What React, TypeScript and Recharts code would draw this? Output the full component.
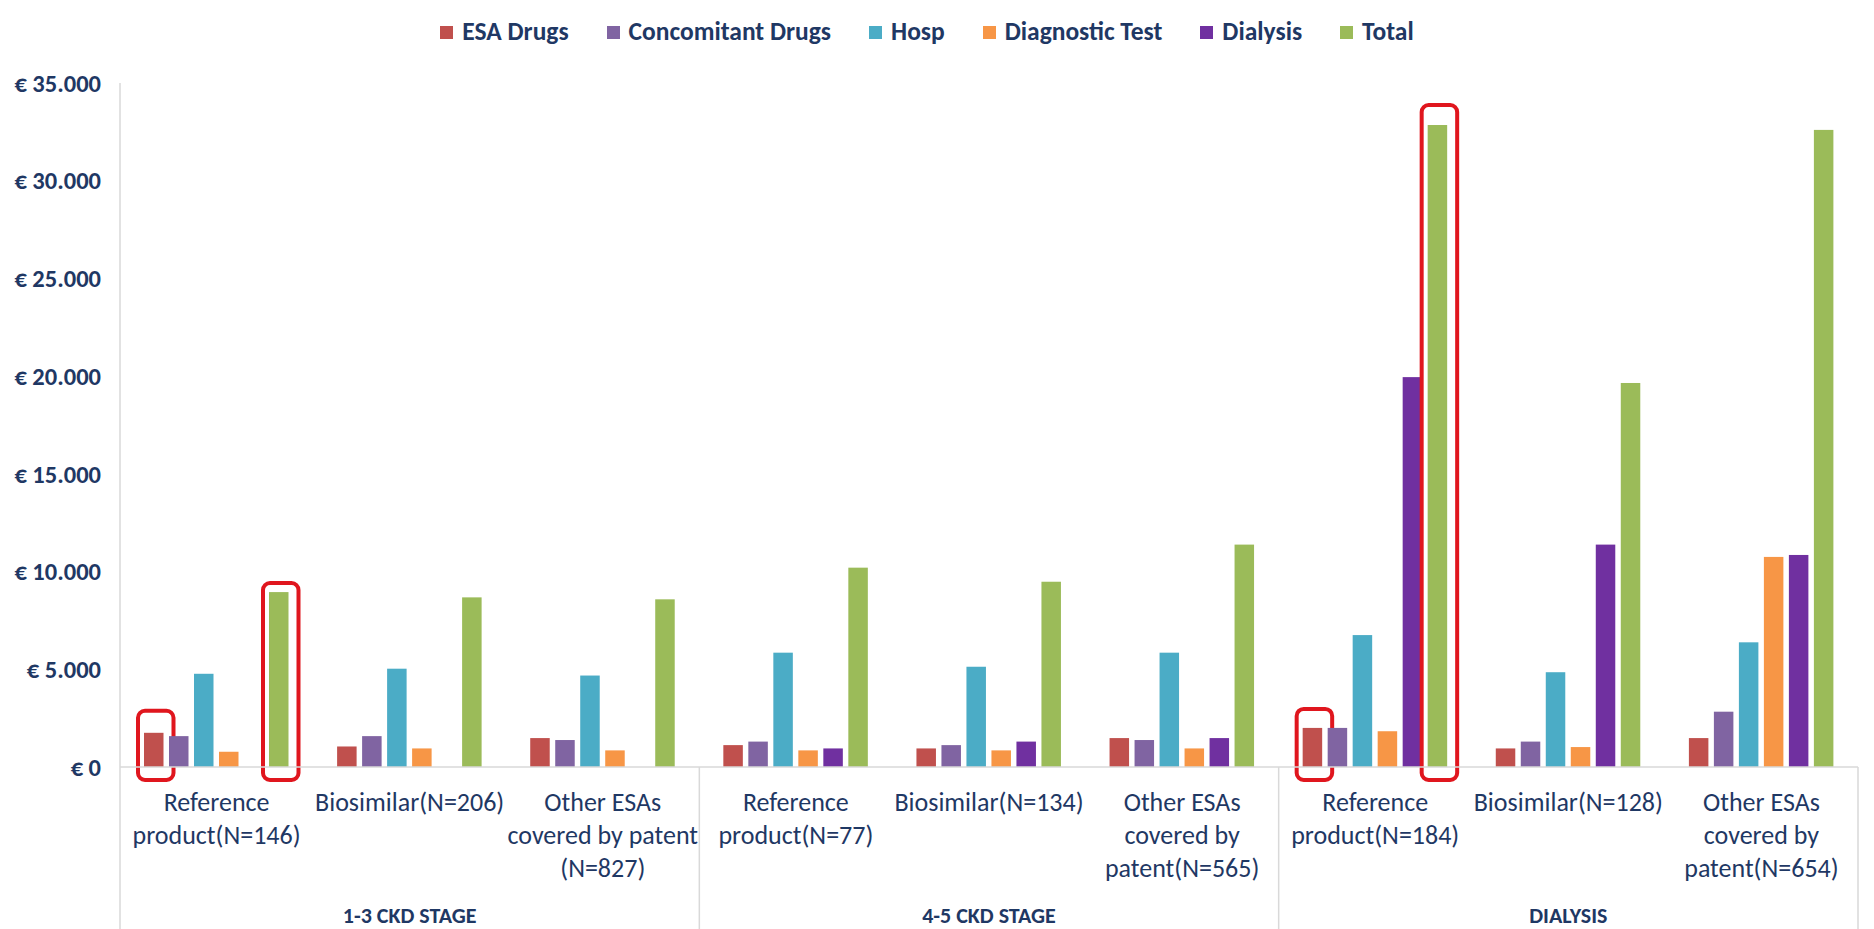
import React from "react";
import { BarChart, Bar, XAxis, YAxis } from "recharts";

const groups = ["1-3 CKD STAGE", "4-5 CKD STAGE", "DIALYSIS"];

const categories = [
  "Reference\nproduct(N=146)",
  "Biosimilar(N=206)",
  "Other ESAs\ncovered by patent\n(N=827)",
  "Reference\nproduct(N=77)",
  "Biosimilar(N=134)",
  "Other ESAs\ncovered by\npatent(N=565)",
  "Reference\nproduct(N=184)",
  "Biosimilar(N=128)",
  "Other ESAs\ncovered by\npatent(N=654)",
];

const esaDrugs = [1750, 1050, 1480, 1120, 950, 1480, 2000, 950, 1480];
const concomitantDrugs = [1580, 1580, 1380, 1300, 1120, 1380, 2000, 1300, 2830];
const hosp = [4770, 5030, 4680, 5850, 5130, 5850, 6750, 4850, 6380];
const diagnosticTest = [780, 950, 850, 850, 850, 950, 1830, 1020, 10750];
const dialysis = [0, 0, 0, 950, 1300, 1480, 19950, 11380, 10850];
const total = [8950, 8680, 8580, 10200, 9480, 11380, 32850, 19650, 32600];

const yTicks = [0, 5000, 10000, 15000, 20000, 25000, 30000, 35000];

// bars circled in red in the original (lift = how far the box rises above the bar)
const highlights = [
  { cat: 0, key: "esa", lift: 22 },
  { cat: 0, key: "total", lift: 9 },
  { cat: 6, key: "esa", lift: 19 },
  { cat: 6, key: "total", lift: 20 },
];

const series = [
  { key: "esa", name: "ESA Drugs", color: "#C0504D", values: esaDrugs },
  { key: "conc", name: "Concomitant Drugs", color: "#8064A2", values: concomitantDrugs },
  { key: "hosp", name: "Hosp", color: "#4BACC6", values: hosp },
  { key: "diag", name: "Diagnostic Test", color: "#F79646", values: diagnosticTest },
  { key: "dial", name: "Dialysis", color: "#7030A0", values: dialysis },
  { key: "total", name: "Total", color: "#9BBB59", values: total },
];

const data = categories.map((label, i) => {
  const row: Record<string, number | string> = { label };
  series.forEach((s) => {
    row[s.key] = s.values[i];
  });
  return row;
});

const W = 1858;
const H = 921;
const MARGIN = { top: 75, right: 8, bottom: 0, left: 0 };
const Y_AXIS_W = 112;
const X_AXIS_H = 162;
const PLOT_W = W - MARGIN.left - MARGIN.right - Y_AXIS_W;
const HALF_BAND = PLOT_W / categories.length / 2;

const FONT = "Carlito, Calibri, Lato, sans-serif";
const TEXT = "#1F3864";
const AXIS = "#D9D9D9";

const euro = (v: number) => "€ " + String(v).replace(/\B(?=(\d{3})+(?!\d))/g, ".");

function CategoryTick(props: any) {
  const { x, y, index, payload } = props;
  const lines = String(payload.value).split("\n");
  const bottom = y + X_AXIS_H;
  return (
    <g>
      {index % 3 === 0 && (
        <line x1={x - HALF_BAND} x2={x - HALF_BAND} y1={y} y2={bottom} stroke={AXIS} strokeWidth={1.5} />
      )}
      {index === categories.length - 1 && (
        <line x1={x + HALF_BAND} x2={x + HALF_BAND} y1={y} y2={bottom} stroke={AXIS} strokeWidth={1.5} />
      )}
      <text x={x} y={y} textAnchor="middle" fill={TEXT} fontSize={26} fontFamily={FONT}>
        {lines.map((l, k) => (
          <tspan key={k} x={x} dy={k === 0 ? 44 : 33}>
            {l}
          </tspan>
        ))}
      </text>
      {index % 3 === 1 && (
        <text x={x} y={y + 156} textAnchor="middle" fill={TEXT} fontSize={22} fontFamily={FONT} fontWeight={600}>
          {groups[Math.floor(index / 3)]}
        </text>
      )}
    </g>
  );
}

const makeShape = (key: string, color: string) => (props: any) => {
  const { x, y, width, height, index } = props;
  const hl = highlights.find((h) => h.cat === index && h.key === key);
  return (
    <g>
      <rect x={x} y={y} width={width} height={height} fill={color} />
      {hl && (
        <rect
          x={x - 6}
          y={y - hl.lift}
          width={width + 16}
          height={height + hl.lift + 13}
          rx={7}
          fill="none"
          stroke="#E0161E"
          strokeWidth={4}
        />
      )}
    </g>
  );
};

function LegendRow() {
  return (
    <div
      style={{
        position: "absolute",
        top: 8,
        left: -10,
        width: W,
        display: "flex",
        justifyContent: "center",
        alignItems: "center",
        gap: 38,
        fontFamily: FONT,
        fontWeight: 700,
        fontSize: 25.5,
        lineHeight: "32px",
        color: TEXT,
      }}
    >
      {series.map((s) => (
        <div key={s.key} style={{ display: "flex", alignItems: "center", gap: 9 }}>
          <span style={{ width: 13, height: 13, background: s.color, display: "inline-block" }} />
          <span>{s.name}</span>
        </div>
      ))}
    </div>
  );
}

export default function App() {
  return (
    <div style={{ position: "relative", width: W, height: H, background: "#fff" }}>
      <LegendRow />
      <BarChart width={W} height={H} data={data} margin={MARGIN} barGap={5.5}>
        <XAxis
          dataKey="label"
          interval={0}
          height={X_AXIS_H}
          tickSize={0}
          tickMargin={0}
          tickLine={false}
          axisLine={{ stroke: AXIS, strokeWidth: 1.5 }}
          tick={<CategoryTick />}
        />
        <YAxis
          width={Y_AXIS_W}
          domain={[0, 35000]}
          ticks={yTicks}
          tickFormatter={euro}
          tickLine={false}
          tickMargin={13}
          axisLine={{ stroke: AXIS, strokeWidth: 1.5 }}
          tick={{ fill: TEXT, fontSize: 24.5, fontWeight: 700, fontFamily: FONT }}
        />
        {series.map((s) => (
          <Bar
            key={s.key}
            dataKey={s.key}
            name={s.name}
            fill={s.color}
            barSize={19.5}
            isAnimationActive={false}
            shape={makeShape(s.key, s.color)}
          />
        ))}
      </BarChart>
    </div>
  );
}
